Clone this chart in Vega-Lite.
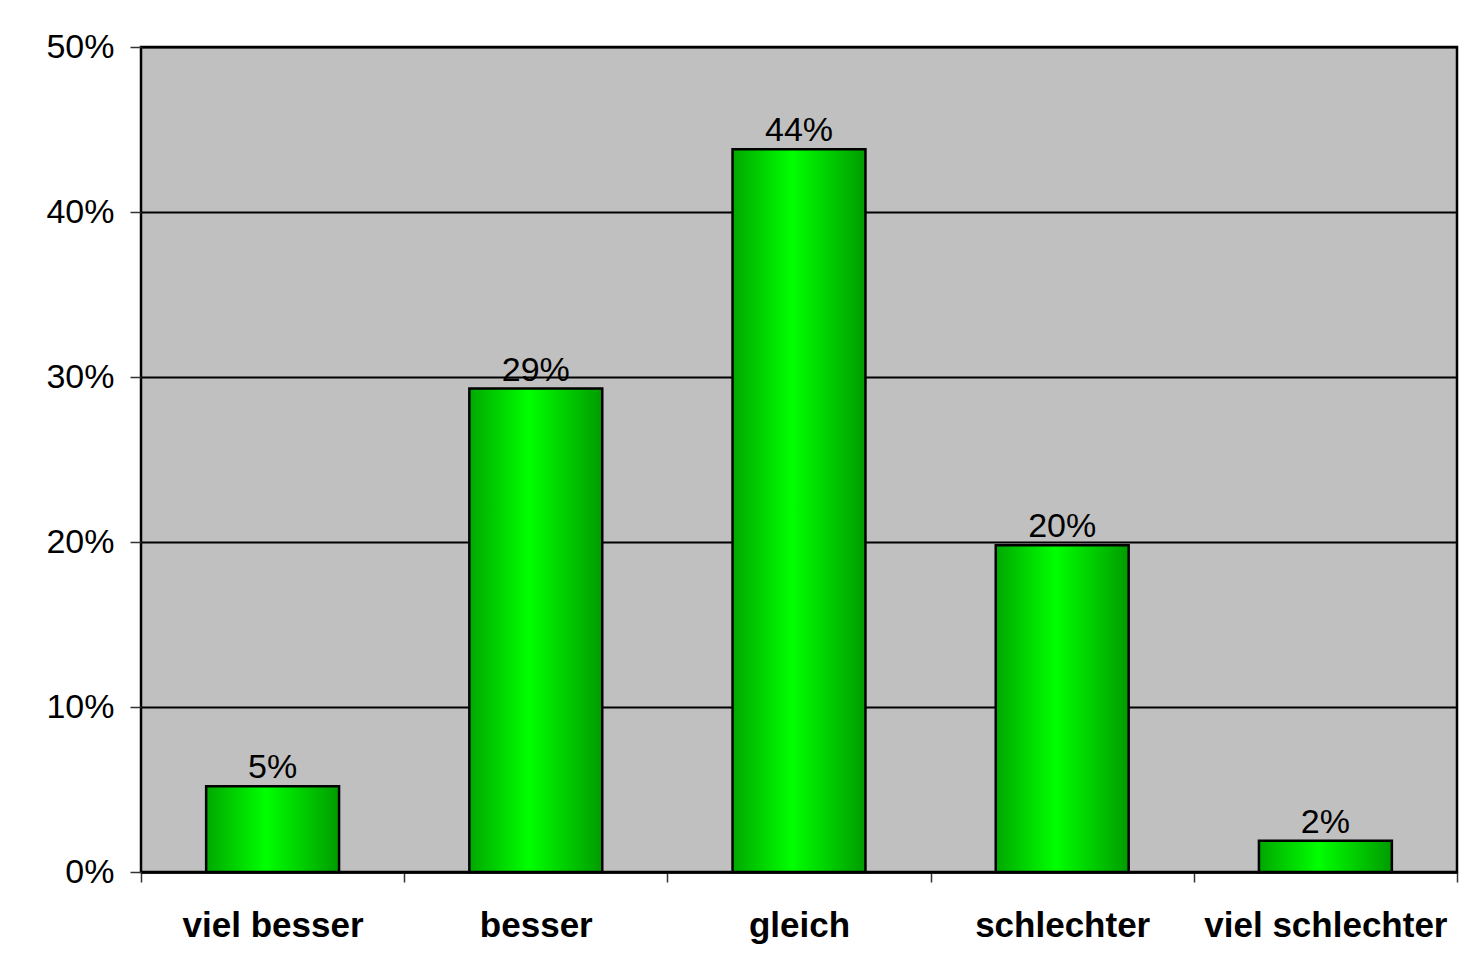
{
  "$schema": "https://vega.github.io/schema/vega-lite/v6.json",
  "width": 1316,
  "height": 825,
  "autosize": {"type": "none"},
  "padding": {"left": 141, "top": 47, "right": 11, "bottom": 108},
  "background": "white",
  "config": {
    "view": {"fill": "#c0c0c0", "stroke": "black", "strokeWidth": 2.5},
    "font": "Liberation Sans"
  },
  "data": {
    "values": [
      {"kategorie": "viel besser", "anteil": 0.052},
      {"kategorie": "besser", "anteil": 0.293},
      {"kategorie": "gleich", "anteil": 0.438},
      {"kategorie": "schlechter", "anteil": 0.198},
      {"kategorie": "viel schlechter", "anteil": 0.019}
    ]
  },
  "encoding": {
    "x": {
      "field": "kategorie",
      "type": "nominal",
      "sort": null,
      "scale": {"paddingInner": 0, "paddingOuter": 0},
      "axis": {
        "title": null,
        "labelAngle": 0,
        "labelFont": "Liberation Sans",
        "labelFontSize": 35,
        "labelFontWeight": "bold",
        "labelColor": "black",
        "labelPadding": 26,
        "labelLimit": 0,
        "tickBand": "extent",
        "tickSize": 10,
        "tickColor": "#333333",
        "tickWidth": 1.5,
        "domainColor": "black",
        "domainWidth": 2.5,
        "grid": false
      }
    },
    "y": {
      "field": "anteil",
      "type": "quantitative",
      "scale": {"domain": [0, 0.5], "nice": false},
      "axis": {
        "title": null,
        "format": ".0%",
        "values": [0, 0.1, 0.2, 0.3, 0.4, 0.5],
        "labelFont": "Liberation Sans",
        "labelFontSize": 34,
        "labelColor": "black",
        "labelPadding": 16,
        "tickSize": 11,
        "tickColor": "#333333",
        "tickWidth": 1.5,
        "domain": false,
        "grid": true,
        "gridColor": "black",
        "gridWidth": 2,
        "gridOpacity": 1
      }
    }
  },
  "layer": [
    {
      "mark": {
        "type": "bar",
        "width": {"band": 0.505},
        "stroke": "black",
        "strokeWidth": 2.5,
        "color": {
          "gradient": "linear",
          "x1": 0, "y1": 0, "x2": 1, "y2": 0,
          "stops": [
            {"offset": 0, "color": "#00a800"},
            {"offset": 0.45, "color": "#00ff00"},
            {"offset": 1, "color": "#009c00"}
          ]
        }
      }
    },
    {
      "mark": {
        "type": "text",
        "baseline": "bottom",
        "dy": -1,
        "fontSize": 34,
        "font": "Liberation Sans",
        "color": "black"
      },
      "encoding": {
        "text": {"field": "anteil", "type": "quantitative", "format": ".0%"}
      }
    }
  ]
}
